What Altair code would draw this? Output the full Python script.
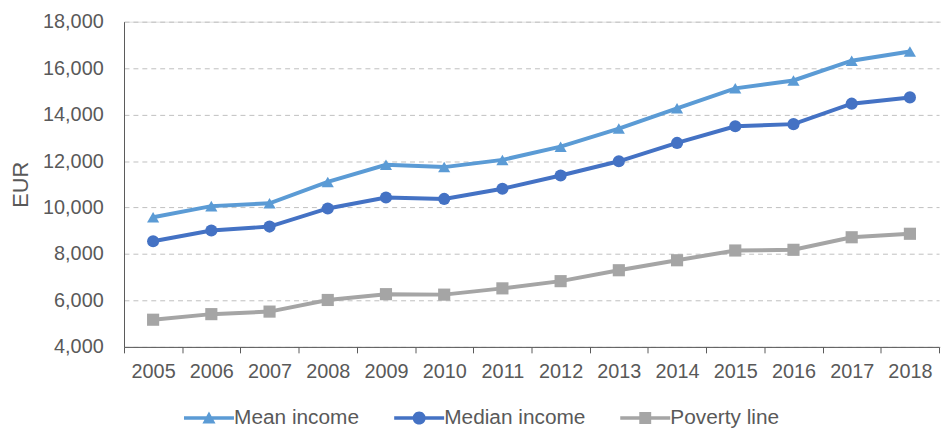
import altair as alt
import pandas as pd

years = [str(y) for y in range(2005, 2019)]
mean_income = [9580, 10060, 10180, 11100, 11840, 11740, 12050, 12620, 13400, 14270, 15130, 15470, 16320, 16720]
median_income = [8550, 9010, 9180, 9960, 10430, 10370, 10810, 11380, 11990, 12780, 13500, 13590, 14470, 14740]
poverty_line = [5170, 5410, 5520, 6020, 6270, 6250, 6520, 6830, 7300, 7730, 8150, 8180, 8720, 8870]

series_names = ["Mean income", "Median income", "Poverty line"]
series_colors = ["#5B9BD5", "#4472C4", "#A5A5A5"]
series_shapes = ["triangle-up", "circle", "square"]

rows = []
for name, vals in zip(series_names, [mean_income, median_income, poverty_line]):
    for y, v in zip(years, vals):
        rows.append({"year": y, "value": v, "series": name})
df = pd.DataFrame(rows)

FONT = "Liberation Sans"
TXT = "#595959"

# the source chart runs a little past the right edge of the picture
x = alt.X("year:O", title=None,
          scale=alt.Scale(type="band", paddingInner=0, paddingOuter=0, range=[0, 822]),
          axis=alt.Axis(tickBand="extent", labelAngle=0, labelFontSize=20, labelColor=TXT,
                        labelFont=FONT, domainColor="#595959", tickColor="#595959",
                        tickSize=6, labelPadding=9, grid=False))
y = alt.Y("value:Q", title="EUR",
          scale=alt.Scale(domain=[4000, 18000], nice=False, zero=False),
          axis=alt.Axis(values=list(range(4000, 18001, 2000)), format=",d",
                        labelFontSize=20, labelColor=TXT, labelFont=FONT,
                        titleFontSize=22, titleFont=FONT, titleColor=TXT, titleFontWeight="normal",
                        titlePadding=10, ticks=False, labelPadding=21,
                        domainColor="#595959", gridColor="#BFBFBF", gridDash=[5, 4],
                        gridWidth=1))

# legend symbol: a short line with the series marker in its middle
bar = "M-1,-0.3L7.4,-0.3L7.4,0.3L-1,0.3Z "
shape_expr = (
    "datum.value === 'Mean income' ? "
    f"'{bar}M3.2,-1.1L4.3,0.9L2.1,0.9Z' : "
    "datum.value === 'Median income' ? "
    f"'{bar}M2.1,0A1.1,1.1 0 1,1 4.3,0A1.1,1.1 0 1,1 2.1,0Z' : "
    f"'{bar}M2.2,-1L4.2,-1L4.2,1L2.2,1Z'"
)

legend = alt.Legend(orient="none", legendX=56, legendY=389, direction="horizontal",
                    labelFontSize=21, labelColor=TXT, labelFont=FONT,
                    symbolSize=144, columnPadding=30, labelOffset=34,
                    symbolType=alt.ExprRef(expr=shape_expr),
                    symbolStrokeWidth=0, symbolOpacity=1)
color = alt.Color("series:N", title=None,
                  scale=alt.Scale(domain=series_names, range=series_colors),
                  legend=legend)

lines = alt.Chart(df).mark_line(strokeWidth=4).encode(x=x, y=y, color=color)
layers = [lines]
for name, shp in zip(series_names, series_shapes):
    layers.append(
        alt.Chart(df).transform_filter(alt.datum.series == name)
        .mark_point(filled=True, size=150, opacity=1, shape=shp)
        .encode(x=x, y=y, color=color)
    )

chart = alt.layer(*layers).properties(
    width=824, height=328,
    autosize=alt.AutoSizeParams(type="none"),
    padding={"left": 117, "top": 12, "right": 0, "bottom": 81},
).configure_view(stroke=None).configure(font=FONT)

chart.save("out.html", embed_options={"renderer": "svg", "actions": False})
